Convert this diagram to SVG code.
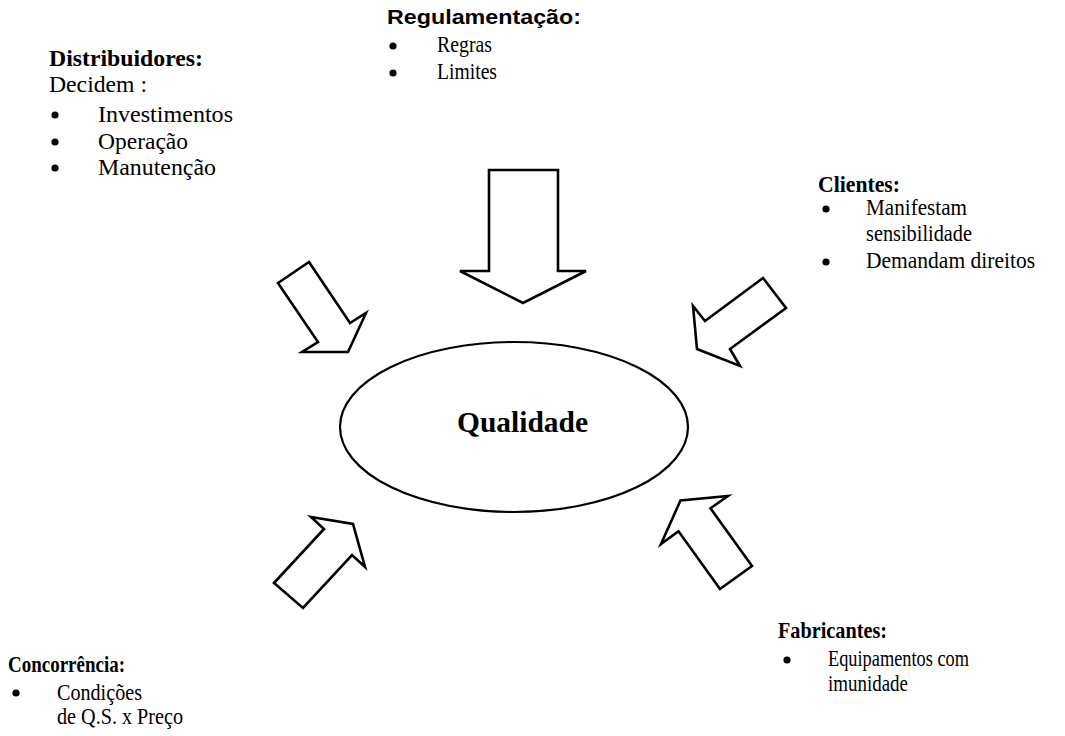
<svg xmlns="http://www.w3.org/2000/svg" width="1065" height="736" viewBox="0 0 1065 736">
<style>
.t{font-family:"Liberation Serif","Times New Roman",serif;font-size:22.5px;fill:#000}
.b{font-weight:bold}
.s{font-family:"Liberation Sans",Arial,sans-serif;font-size:20px;font-weight:bold;fill:#000}
.q{font-family:"Liberation Serif","Times New Roman",serif;font-size:29px;font-weight:bold;fill:#000}
.arrow{fill:#fff;stroke:#000;stroke-width:2.6;stroke-linejoin:miter}
.dot{fill:#000}
</style>
<rect width="1065" height="736" fill="#fff"/>
<g id="connectors">
<polygon class="arrow" points="489,170 558,170 558,271 586,271 523,303 460,271 489,271"/>
<polygon class="arrow" points="309,262 350,323 366,313 348,352 302,352 318,342 278,283"/>
<polygon class="arrow" points="763,278 786,308 730,349 740,366 697,349 693,306 705,321"/>
<polygon class="arrow" points="274,583 324,529 311,517 353,524 365,567 352,555 303,608"/>
<polygon class="arrow" points="720,589 678.5,531.3 661,544 680.5,500.4 728,496 710.5,508.3 752,566"/>
</g>
<g id="qualidade">
<ellipse cx="514" cy="427" rx="174" ry="85" fill="#fff" stroke="#000" stroke-width="2.2"/>
<text class="q" x="457" y="432" textLength="131" lengthAdjust="spacingAndGlyphs">Qualidade</text>
</g>
<g id="distribuidores">
<text class="t b" x="49" y="66" textLength="154" lengthAdjust="spacingAndGlyphs">Distribuidores:</text>
<text class="t" x="49" y="92" textLength="98" lengthAdjust="spacingAndGlyphs">Decidem :</text>
<circle class="dot" cx="55" cy="115" r="3.6"/>
<text class="t" x="98" y="122" textLength="135" lengthAdjust="spacingAndGlyphs">Investimentos</text>
<circle class="dot" cx="55" cy="142" r="3.6"/>
<text class="t" x="98" y="149" textLength="90" lengthAdjust="spacingAndGlyphs">Operação</text>
<circle class="dot" cx="55" cy="168" r="3.6"/>
<text class="t" x="98" y="175" textLength="118" lengthAdjust="spacingAndGlyphs">Manutenção</text>
</g>
<g id="regulamentacao">
<text class="s" x="387" y="24" textLength="194" lengthAdjust="spacingAndGlyphs">Regulamentação:</text>
<circle class="dot" cx="393" cy="46" r="3.6"/>
<text class="t" x="437" y="52" textLength="55" lengthAdjust="spacingAndGlyphs">Regras</text>
<circle class="dot" cx="393" cy="73" r="3.6"/>
<text class="t" x="437" y="79" textLength="60" lengthAdjust="spacingAndGlyphs">Limites</text>
</g>
<g id="clientes">
<text class="t b" x="818" y="192" textLength="82" lengthAdjust="spacingAndGlyphs">Clientes:</text>
<circle class="dot" cx="826" cy="209" r="3.6"/>
<text class="t" x="866" y="215" textLength="101" lengthAdjust="spacingAndGlyphs">Manifestam</text>
<text class="t" x="866" y="241" textLength="106" lengthAdjust="spacingAndGlyphs">sensibilidade</text>
<circle class="dot" cx="826" cy="262" r="3.6"/>
<text class="t" x="866" y="268" textLength="169" lengthAdjust="spacingAndGlyphs">Demandam direitos</text>
</g>
<g id="fabricantes">
<text class="t b" x="778" y="638" textLength="109" lengthAdjust="spacingAndGlyphs">Fabricantes:</text>
<circle class="dot" cx="787" cy="660" r="3.6"/>
<text class="t" x="828" y="666" textLength="141" lengthAdjust="spacingAndGlyphs">Equipamentos com</text>
<text class="t" x="828" y="691" textLength="80" lengthAdjust="spacingAndGlyphs">imunidade</text>
</g>
<g id="concorrencia">
<text class="t b" x="8" y="672" textLength="117" lengthAdjust="spacingAndGlyphs">Concorrência:</text>
<circle class="dot" cx="16" cy="693" r="3.6"/>
<text class="t" x="57" y="700" textLength="85" lengthAdjust="spacingAndGlyphs">Condições</text>
<text class="t" x="57" y="724" textLength="126" lengthAdjust="spacingAndGlyphs">de Q.S. x Preço</text>
</g>
</svg>
